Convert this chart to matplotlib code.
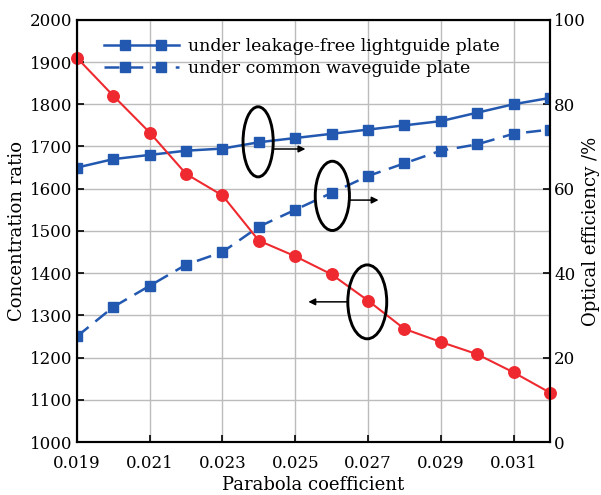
import matplotlib
matplotlib.use("Agg")
import numpy as np
import matplotlib.pyplot as plt
from matplotlib.patches import Ellipse
from matplotlib.legend_handler import HandlerLine2D

plt.rcParams['font.family'] = ['DejaVu Serif']
plt.rcParams['mathtext.fontset'] = 'dejavuserif'

# Data
coef = [0.019, 0.020, 0.021, 0.022, 0.023, 0.024, 0.025, 0.026, 0.027, 0.028, 0.029, 0.030, 0.031, 0.032]
concentration = [1910, 1820, 1733, 1635, 1584, 1477, 1440, 1397, 1335, 1268, 1237, 1208, 1165, 1117]
eff_leakfree = [65, 67, 68, 69, 69.5, 71, 72, 73, 74, 75, 76, 78, 80, 81.5]
eff_common = [25, 32, 37, 42, 45, 51, 55, 59, 63, 66, 69, 70.5, 73, 74]
legend_labels = ["under leakage-free lightguide plate", "under common waveguide plate"]
xticks = [0.019, 0.021, 0.023, 0.025, 0.027, 0.029, 0.031]
xticklabels = ["0.019", "0.021", "0.023", "0.025", "0.027", "0.029", "0.031"]

blue = '#2258b0'
red = '#ee2a30'


class InsetMarkerHandler(HandlerLine2D):
    def create_artists(self, legend, orig_handle, xdescent, ydescent, width, height, fontsize, trans):
        artists = super().create_artists(legend, orig_handle, xdescent, ydescent,
                                         width, height, fontsize, trans)
        line = artists[0]
        x0 = -xdescent
        xs = [x0, x0 + 0.28 * width, x0 + 0.76 * width, x0 + width]
        y = (height - ydescent) / 2
        line.set_data(xs, [y] * 4)
        line.set_markevery([1, 2])
        return artists


fig = plt.figure(figsize=(6.01, 4.95), dpi=100)
ax1 = fig.add_axes([0.128, 0.107, 0.787, 0.853])
ax2 = ax1.twinx()

# grid and blue curves on ax2
ax2.set_ylim(0, 100)
ax2.set_yticks(range(0, 101, 20))
ax2.set_yticks(range(0, 101, 10), minor=True)
ax2.tick_params(axis='y', which='major', direction='in', length=5, width=1.2, labelsize=12, pad=3)
ax2.tick_params(axis='y', which='minor', length=0)
ax2.grid(True, which='both', axis='y', color='#bcbcbc', linewidth=1.0)
ax2.set_axisbelow(True)

l1, = ax2.plot(coef, eff_leakfree, color=blue, linewidth=1.8, marker='s', markersize=7.5,
               label=legend_labels[0])
l2, = ax2.plot(coef, eff_common, color=blue, linewidth=1.8, marker='s', markersize=7.5,
               dashes=(6, 3.5), label=legend_labels[1])
ax2.set_ylabel("Optical efficiency /%", fontsize=13)
ax2.yaxis.set_label_coords(1.068, 0.5)

# red curve on ax1 on top
ax1.set_zorder(ax2.get_zorder() + 1)
ax1.patch.set_visible(False)
ax1.plot(coef, concentration, color=red, linewidth=1.5, marker='o', markersize=8.3, clip_on=False)
ax1.set_ylim(1000, 2000)
ax1.set_yticks(range(1000, 2001, 100))
ax1.set_xlim(0.019, 0.032)
ax1.set_xticks(xticks)
ax1.set_xticklabels(xticklabels)
ax1.tick_params(axis='y', direction='in', length=5, width=1.2, labelsize=12, pad=3)
ax1.tick_params(axis='x', direction='in', length=5, width=1.2, labelsize=12, pad=9)
ax2.tick_params(axis='x', direction='in', length=0)
for xt in xticks:
    ax2.axvline(xt, color='#bcbcbc', linewidth=1.0, zorder=0)
ax1.set_ylabel("Concentration ratio", fontsize=13, labelpad=3)
ax1.set_xlabel("Parabola coefficient", fontsize=13, labelpad=3)

for ax in (ax1, ax2):
    for s in ax.spines.values():
        s.set_linewidth(1.5)

# ellipses and arrows
ax1.add_patch(Ellipse((0.02398, 1711), 0.00083, 166, fill=False, edgecolor='black', linewidth=2.1, zorder=5))
ax1.add_patch(Ellipse((0.02602, 1583), 0.00094, 164, fill=False, edgecolor='black', linewidth=2.1, zorder=5))
ax1.add_patch(Ellipse((0.02698, 1332), 0.00107, 175, fill=False, edgecolor='black', linewidth=2.1, zorder=5))
arrowprops = dict(arrowstyle='-|>', color='black', linewidth=1.1, mutation_scale=10, shrinkA=0, shrinkB=0)
ax1.annotate('', xy=(0.02528, 1694), xytext=(0.02441, 1694), arrowprops=arrowprops, zorder=6)
ax1.annotate('', xy=(0.02729, 1573), xytext=(0.02649, 1573), arrowprops=arrowprops, zorder=6)
ax1.annotate('', xy=(0.02536, 1332), xytext=(0.02646, 1332), arrowprops=arrowprops, zorder=6)

leg = ax1.legend([l1, l2], legend_labels, loc='upper left', bbox_to_anchor=(0.021, 0.997),
                 frameon=False, fontsize=12.5, numpoints=2, handlelength=4.3,
                 handletextpad=0.5, labelspacing=0.25, borderaxespad=0.6,
                 handler_map={l1: InsetMarkerHandler(), l2: InsetMarkerHandler()})

fig.savefig("out.png", dpi=100)
